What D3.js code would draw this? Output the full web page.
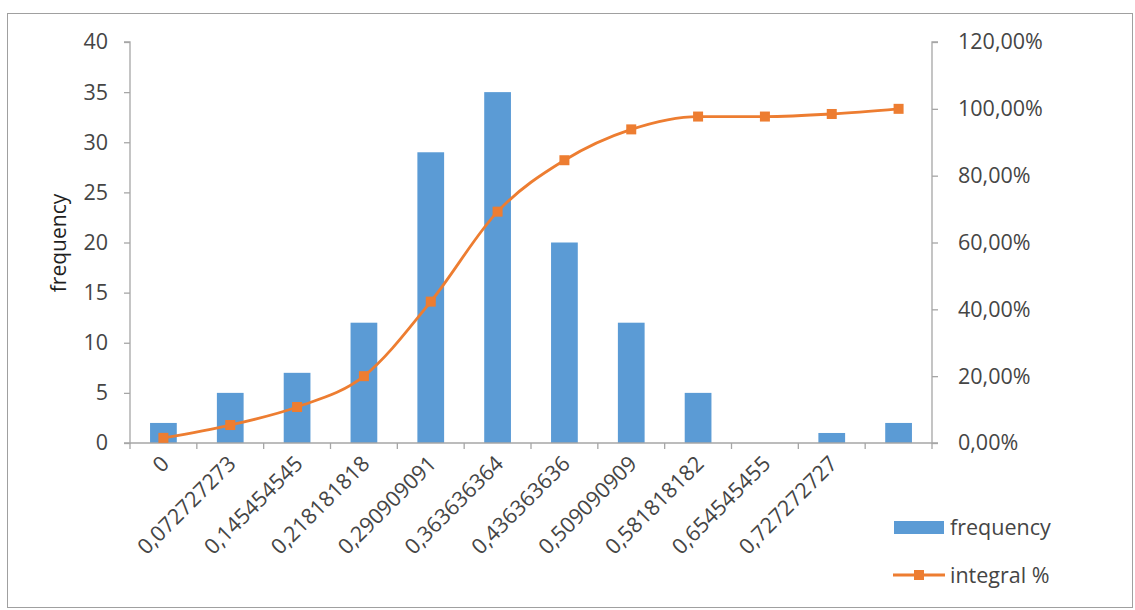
<!DOCTYPE html>
<html>
<head>
<meta charset="utf-8">
<script src="https://cdn.jsdelivr.net/npm/d3@7"></script>
<style>
  html, body { margin: 0; padding: 0; background: #fff; }
  svg { display: block; font-family: "Open Sans", "Noto Sans", sans-serif; }
</style>
</head>
<body>
<svg id="chart" width="1135" height="610"></svg>
<script>
// Histogram bins (left edge of each bin) and counts
const categories = ["0", "0,072727273", "0,145454545", "0,218181818", "0,290909091",
  "0,363636364", "0,436363636", "0,509090909", "0,581818182", "0,654545455",
  "0,727272727", ""];
const frequency = [2, 5, 7, 12, 29, 35, 20, 12, 5, 0, 1, 2];
// Cumulative share in percent
const integral = [1.54, 5.38, 10.77, 20.0, 42.31, 69.23, 84.62, 93.85, 97.69, 97.69, 98.46, 100.0];
const leftTicks = [0, 5, 10, 15, 20, 25, 30, 35, 40];
const rightTicks = [0, 20, 40, 60, 80, 100, 120];
const seriesNames = ["frequency", "integral %"];

const svg = d3.select("#chart");
const barColor = "#5B9BD5";
const lineColor = "#ED7D31";
const axisColor = "#A6A6A6";
const textColor = "#454545";

// chart frame
svg.append("rect")
  .attr("x", 7.5).attr("y", 13.5).attr("width", 1125).attr("height", 594)
  .attr("fill", "#fff").attr("stroke", "#A0A0A0").attr("stroke-width", 1);

const plot = { left: 130, right: 932, top: 42, bottom: 443 };

const x = d3.scaleBand().domain(d3.range(categories.length))
  .range([plot.left, plot.right]).paddingInner(0.6).paddingOuter(0.3);
const xBand = d3.scaleBand().domain(d3.range(categories.length))
  .range([plot.left, plot.right]).padding(0);
const yL = d3.scaleLinear().domain([0, 40]).range([plot.bottom, plot.top]);
const yR = d3.scaleLinear().domain([0, 120]).range([plot.bottom, plot.top]);

// bars
svg.append("g").selectAll("rect").data(frequency).join("rect")
  .attr("x", (d, i) => x(i))
  .attr("width", x.bandwidth())
  .attr("y", d => yL(d))
  .attr("height", d => yL(0) - yL(d))
  .attr("fill", barColor);

// left axis
const axL = svg.append("g").attr("transform", `translate(${plot.left},0)`)
  .call(d3.axisLeft(yL).tickValues(leftTicks).tickSize(6).tickPadding(16));
// right axis
const axR = svg.append("g").attr("transform", `translate(${plot.right},0)`)
  .call(d3.axisRight(yR).tickValues(rightTicks).tickSize(6).tickPadding(20)
    .tickFormat(d => d3.format(".2f")(d).replace(".", ",") + "%"));
// bottom axis: ticks at band boundaries
const axB = svg.append("g").attr("transform", `translate(0,${plot.bottom})`);
axB.append("line").attr("x1", plot.left).attr("x2", plot.right)
  .attr("stroke", axisColor).attr("stroke-width", 1.3);
axB.selectAll("line.tk").data(d3.range(categories.length + 1)).join("line")
  .attr("class", "tk")
  .attr("x1", i => plot.left + i * xBand.bandwidth())
  .attr("x2", i => plot.left + i * xBand.bandwidth())
  .attr("y1", 0).attr("y2", 6)
  .attr("stroke", axisColor).attr("stroke-width", 1.3);
axB.selectAll("text").data(categories).join("text")
  .attr("transform", (d, i) => `translate(${xBand(i) + xBand.bandwidth() / 2 + 7},${22}) rotate(-45)`)
  .attr("text-anchor", "end")
  .attr("font-size", 21.5)
  .attr("fill", textColor)
  .text(d => d);

[axL, axR].forEach(ax => {
  ax.select(".domain").attr("stroke", axisColor).attr("stroke-width", 1.3);
  ax.selectAll(".tick line").attr("stroke", axisColor).attr("stroke-width", 1.3);
  ax.selectAll(".tick text").attr("font-size", 21.5).attr("fill", textColor)
    .attr("font-family", "'Open Sans', sans-serif");
});
axL.select(".domain").attr("d", `M-6,${plot.top}H0V${plot.bottom}H-6`);
axR.select(".domain").attr("d", `M6,${plot.top}H0V${plot.bottom}H6`);

// y title
svg.append("text")
  .attr("transform", `translate(66,243) rotate(-90)`)
  .attr("text-anchor", "middle")
  .attr("font-size", 21)
  .attr("fill", "#1f1f1f")
  .text("frequency");

// cumulative line
const cx = i => xBand(i) + xBand.bandwidth() / 2;
const line = d3.line().x((d, i) => cx(i)).y(d => yR(d)).curve(d3.curveMonotoneX);
svg.append("path").datum(integral)
  .attr("d", line).attr("fill", "none")
  .attr("stroke", lineColor).attr("stroke-width", 2.8);
svg.append("g").selectAll("rect").data(integral).join("rect")
  .attr("x", (d, i) => cx(i) - 5).attr("y", d => yR(d) - 5)
  .attr("width", 10).attr("height", 10)
  .attr("fill", lineColor);

// legend
const lg = svg.append("g");
lg.append("rect").attr("x", 894).attr("y", 521).attr("width", 50).attr("height", 13).attr("fill", barColor);
lg.append("text").attr("x", 950).attr("y", 535).attr("font-size", 21.5).attr("fill", textColor).text(seriesNames[0]);
lg.append("line").attr("x1", 893).attr("x2", 945).attr("y1", 575).attr("y2", 575)
  .attr("stroke", lineColor).attr("stroke-width", 2.8);
lg.append("rect").attr("x", 914).attr("y", 570).attr("width", 10).attr("height", 10).attr("fill", lineColor);
lg.append("text").attr("x", 950).attr("y", 583).attr("font-size", 21.5).attr("fill", textColor).text(seriesNames[1]);
</script>
</body>
</html>
